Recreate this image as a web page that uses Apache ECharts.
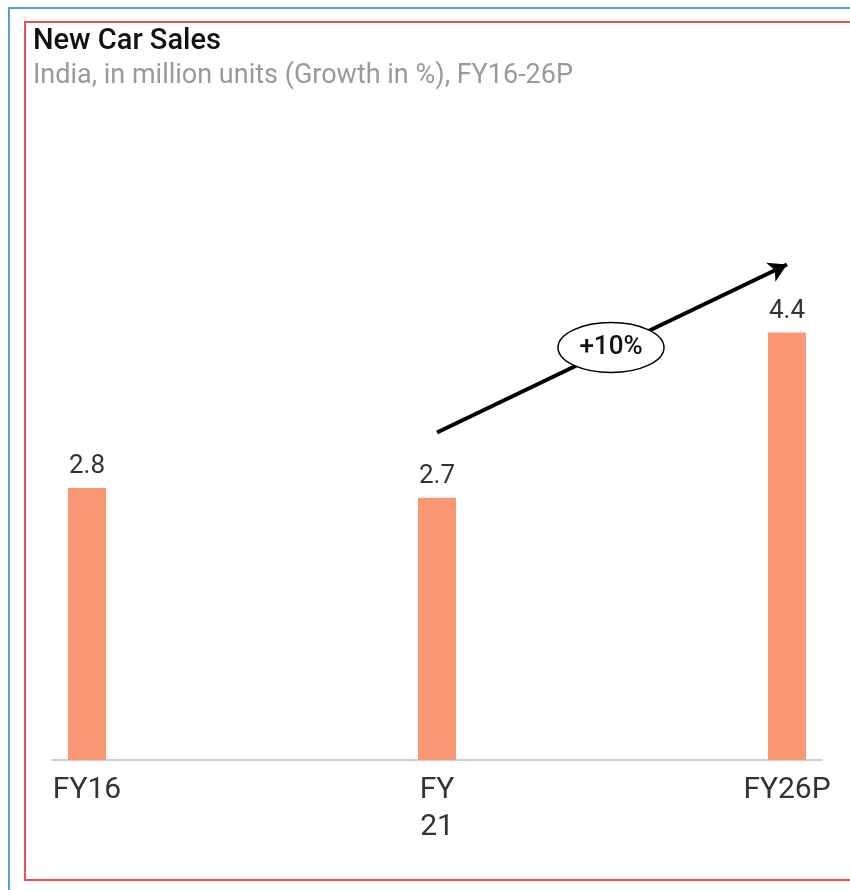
<!DOCTYPE html>
<html>
<head>
<meta charset="utf-8">
<script src="https://cdn.jsdelivr.net/npm/echarts@6/dist/echarts.min.js"></script>
<style>
    html, body {margin: 0; padding: 0; width: 850px; height: 890px; overflow: hidden; background: #fff;}
    .outer {position: absolute; left: 8px; top: 7px; width: 900px; height: 950px; border: 2px solid #5b9bd5;}
    .inner {position: absolute; left: 24px; top: 21px; width: 900px; height: 856px; border: 2px solid #e8514f;}
    #main {position: absolute; left: 0; top: 0; width: 850px; height: 890px;}
</style>
</head>
<body>
<div class="outer"></div>
<div class="inner"></div>
<div id="main"></div>
<script>
var categories = ['FY16', 'FY21', 'FY26P'];
var tickLabels = ['FY16', 'FY\n21', 'FY26P'];
var sales = [2.8, 2.7, 4.4];
// growth arrow, in data coords (category index, value)
var growthFrom = [1, 3.37];
var growthTo = [2, 5.1];
var growthText = '+10%';

var barData = [];
for (var i = 0; i < sales.length; i++) {
    barData.push([i, sales[i]]);
}

var myChart = echarts.init(document.getElementById('main'));
myChart.setOption({
    animation: false,
    textStyle: {fontFamily: 'Roboto'},
    title: {
        left: 28,
        top: 22,
        text: 'New Car Sales',
        textStyle: {fontSize: 29, fontWeight: 500, color: '#111'},
        subtext: 'India, in million units (Growth in %), FY16-26P',
        subtextStyle: {fontSize: 27, color: '#9a9a9a'},
        itemGap: 7
    },
    grid: {
        left: 52,
        right: 28,
        top: 177,
        bottom: 130
    },
    xAxis: {
        type: 'value',
        min: -0.1,
        max: 2.1,
        splitLine: {show: false},
        axisTick: {show: false},
        axisLine: {show: true, lineStyle: {color: '#d0d0d0', width: 2}},
        axisLabel: {
            customValues: [0, 1, 2],
            showMinLabel: true,
            showMaxLabel: true,
            formatter: function (v) {
                return tickLabels[Math.round(v)];
            },
            fontSize: 30,
            lineHeight: 37,
            color: '#333',
            margin: 12,
            verticalAlign: 'top'
        }
    },
    yAxis: {
        type: 'value',
        min: 0,
        max: 6,
        show: false
    },
    series: [{
        type: 'bar',
        name: 'Sales',
        data: barData,
        barWidth: 38,
        itemStyle: {color: '#f99674'},
        label: {
            show: true,
            position: 'top',
            distance: 8,
            fontSize: 26,
            color: '#333',
            formatter: function (p) {
                return p.value[1].toFixed(1);
            }
        },
        markLine: {
            silent: true,
            symbol: ['none', 'arrow'],
            symbolSize: [16, 18],
            label: {show: false},
            lineStyle: {color: '#000', width: 4, type: 'solid'},
            data: [[{coord: growthFrom}, {coord: growthTo}]]
        }
    }]
});

// ellipse with growth text at the middle of the arrow
var mid = myChart.convertToPixel({seriesIndex: 0}, [
    (growthFrom[0] + growthTo[0]) / 2,
    (growthFrom[1] + growthTo[1]) / 2
]);
myChart.setOption({
    graphic: [{
        type: 'ellipse',
        shape: {cx: mid[0] - 1, cy: mid[1] - 1, rx: 53, ry: 25},
        style: {fill: '#fff', stroke: '#000', lineWidth: 1.5},
        z: 100
    }, {
        type: 'text',
        x: mid[0] - 1,
        y: mid[1] - 1,
        style: {
            text: growthText,
            fontSize: 26,
            fontWeight: 500,
            fontFamily: 'Roboto',
            fill: '#111',
            align: 'center',
            verticalAlign: 'middle'
        },
        z: 101
    }]
});
</script>
</body>
</html>
